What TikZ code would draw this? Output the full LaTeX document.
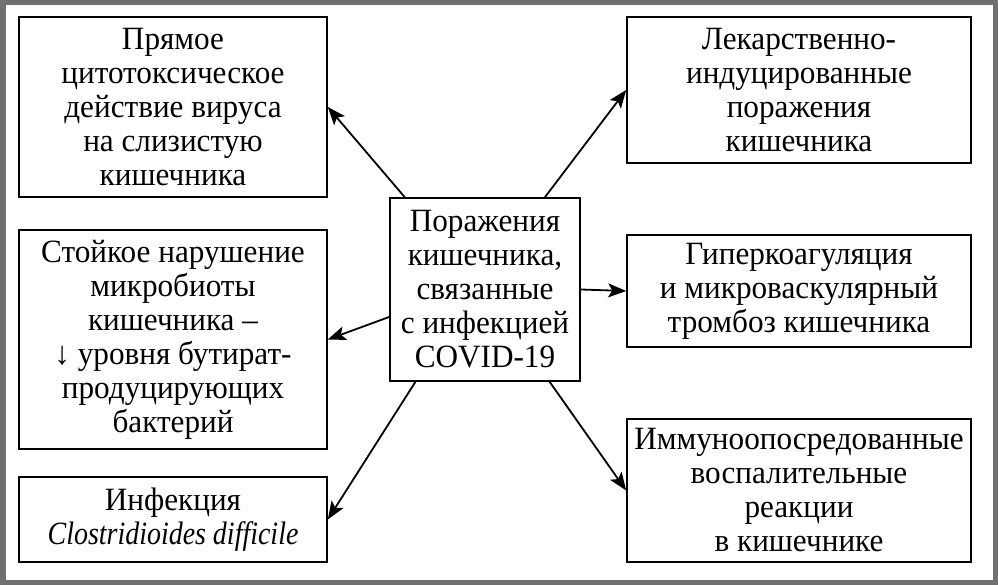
\documentclass[tikz,border=0pt]{standalone}
\usepackage{fontspec}
\setmainfont[FakeStretch=0.96, ItalicFeatures={FakeStretch=0.86}]{Liberation Serif}
\usetikzlibrary{arrows.meta}
\definecolor{framegray}{RGB}{112,112,112}

\begin{document}
\begin{tikzpicture}[x=1pt, y=-1pt,
  every node/.style={shape=rectangle, draw, line width=1.6pt, align=center, inner sep=0pt, font=\fontsize{32.5}{34}\selectfont},
  leftbox/.style={minimum width=308pt},
  rightbox/.style={minimum width=344pt},
  arr/.style={line width=1.8pt, -{Stealth[length=18pt, width=14pt, inset=4pt]}}]
\useasboundingbox (0,0) rectangle (998,585);
\draw[framegray, line width=5.5pt] (2.75,2.75) rectangle (995.25,582.25);

\node[minimum width=190pt, minimum height=183pt] (covid) at (485,289.5) {Поражения\\кишечника,\\связанные\\с инфекцией\\COVID-19};

\node[leftbox, minimum height=180pt] (direct) at (173,107) {Прямое\\цитотоксическое\\действие вируса\\на слизистую\\кишечника};
\node[leftbox, minimum height=219pt] (microbiota) at (173,339.5) {Стойкое нарушение\\микробиоты\\кишечника --\\↓ уровня бутират-\\продуцирующих\\бактерий};
\node[leftbox, minimum height=85pt] (cdiff) at (173,519.5) {Инфекция\\\textit{Clostridioides difficile}};

\node[rightbox, minimum height=146pt] (drug) at (799,90) {Лекарственно-\\индуцированные\\поражения\\кишечника};
\node[rightbox, minimum height=112pt] (thrombo) at (799,291) {Гиперкоагуляция\\и микроваскулярный\\тромбоз кишечника};
\node[rightbox, minimum height=143pt] (immune) at (799,490.5) {Иммуноопосредованные\\воспалительные\\реакции\\в кишечнике};

\draw[arr] (covid.131) -- (direct.east);
\draw[arr] (covid.196) -- (microbiota.east);
\draw[arr] (covid.233) -- (cdiff.east);
\draw[arr] (covid.57) -- (drug.west);
\draw[arr] (covid.0) -- (thrombo.west);
\draw[arr] (covid.305) -- (immune.west);
\end{tikzpicture}
\end{document}
